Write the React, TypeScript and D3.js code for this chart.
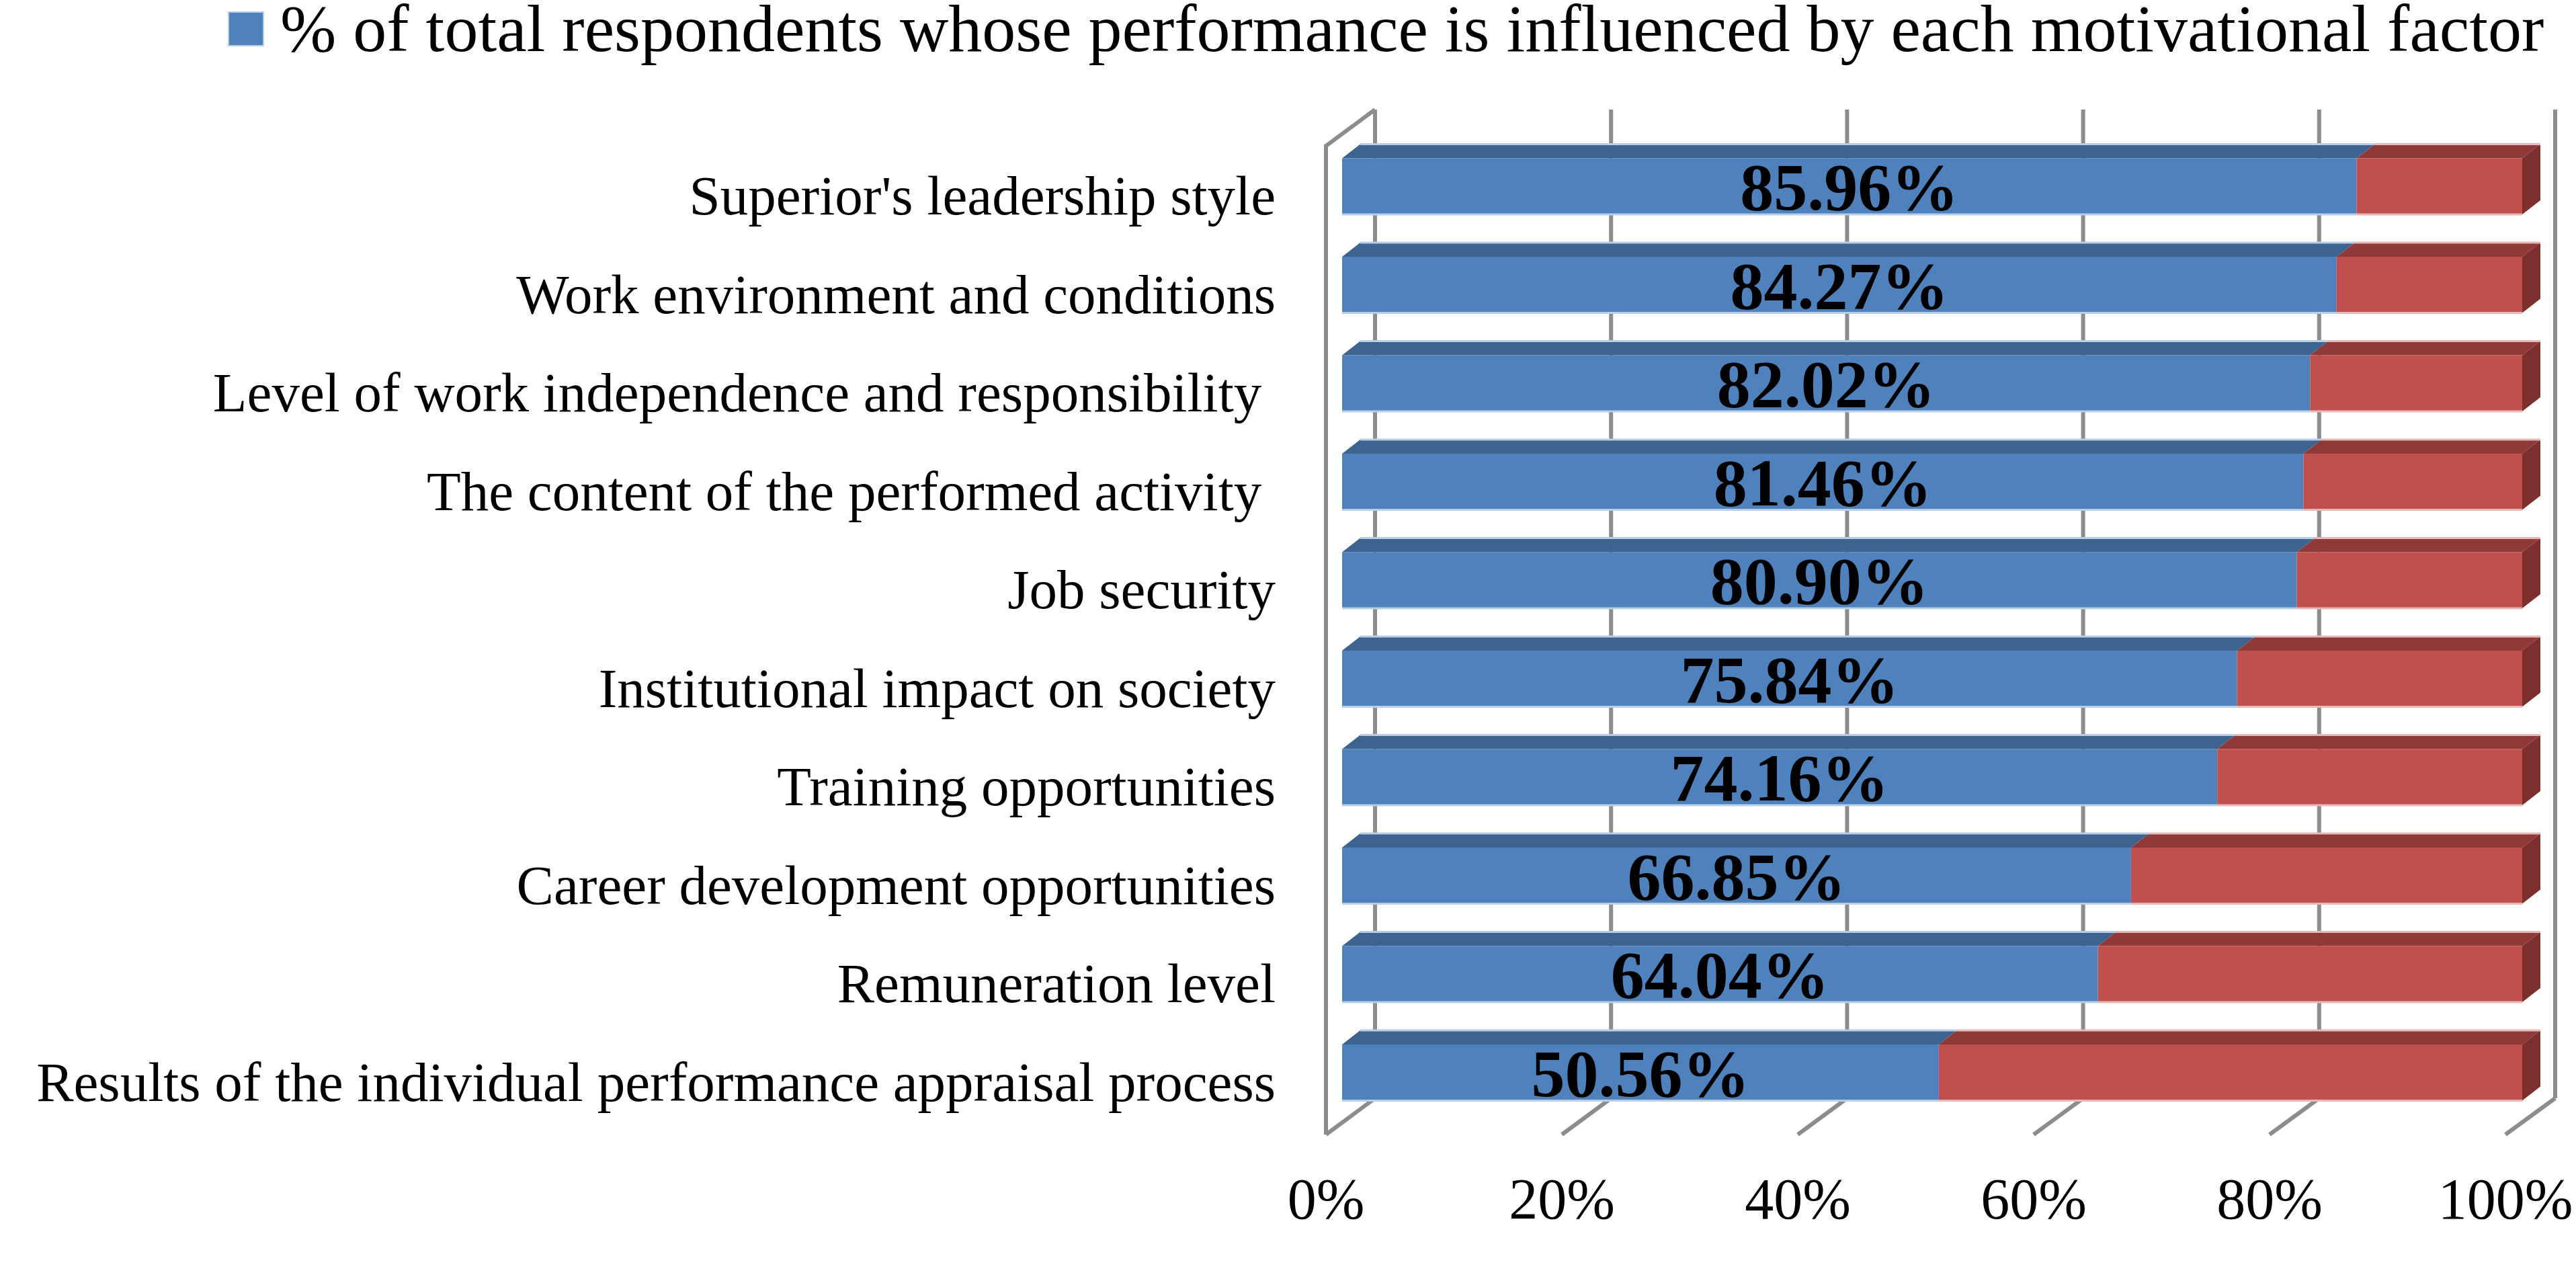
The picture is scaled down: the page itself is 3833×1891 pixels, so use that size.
import * as d3 from "d3";

const categories = [
  "Superior's leadership style",
  "Work environment and conditions",
  "Level of work independence and responsibility ",
  "The content of the performed activity ",
  "Job security",
  "Institutional impact on society",
  "Training opportunities",
  "Career development opportunities",
  "Remuneration level",
  "Results of the individual performance appraisal process",
];
const influenced = [85.96, 84.27, 82.02, 81.46, 80.9, 75.84, 74.16, 66.85, 64.04, 50.56];
const notInfluenced = [14.04, 15.73, 17.98, 18.54, 19.1, 24.16, 25.84, 33.15, 35.96, 49.44];
const xTicks = [0, 20, 40, 60, 80, 100];
const legendLabel =
  "% of total respondents whose performance is influenced by each motivational factor";

const width = 3833;
const height = 1891;
const font = "'Liberation Serif', 'Times New Roman', serif";

const blue = { front: "#4f81bd", top: "#3d6391", edge: "#b9cde5" };
const red = { front: "#c0504d", top: "#8f3a38", side: "#7c2f2d", edge: "#e6b9b8" };
const gridColor = "#8c8c8c";

// depth offsets
const barDx = 27;
const barDy = 21;
const gridTop = 163;
const floorBack = 1634;
const floorFront = 1688;

const App = () => {
  const x = d3.scaleLinear().domain([0, 100]).range([1997, 3753]);
  const xBack = d3.scaleLinear().domain([0, 100]).range([2046, 3802]);
  const xFloor = d3.scaleLinear().domain([0, 100]).range([1973, 3728]);
  const y = d3
    .scaleBand()
    .domain(categories)
    .range([204, 1669])
    .paddingInner(0.43)
    .paddingOuter(0.215);
  const bw = y.bandwidth();

  const topFace = (x0, x1, yt) =>
    `${x0},${yt} ${x1},${yt} ${x1 + barDx},${yt - barDy} ${x0 + barDx},${yt - barDy}`;
  const sideFace = (x1, yt) =>
    `${x1},${yt} ${x1 + barDx},${yt - barDy} ${x1 + barDx},${yt + bw - barDy} ${x1},${yt + bw}`;

  return (
    <svg
      width={width}
      height={height}
      viewBox={`0 0 ${width} ${height}`}
      style={{ position: "absolute", left: 0, top: 0, background: "#fff" }}
    >
      {/* legend */}
      <g>
        <rect x={340} y={18} width={52} height={50} fill={blue.front} stroke={blue.edge} strokeWidth={2} />
        <text x={417} y={76} fontFamily={font} fontSize={100} fill="#000">
          {legendLabel}
        </text>
      </g>

      {/* back wall gridlines */}
      <g stroke={gridColor} strokeWidth={6} fill="none">
        {xTicks.map((t) => (
          <line key={`g-${t}`} x1={xBack(t)} x2={xBack(t)} y1={gridTop} y2={floorBack} />
        ))}
        {/* floor diagonals */}
        {xTicks.map((t) => (
          <line key={`f-${t}`} x1={xBack(t)} y1={floorBack} x2={xFloor(t)} y2={floorFront} />
        ))}
        {/* left wall */}
        <polyline
          points={`${xBack(0)},${gridTop} ${xFloor(0)},${gridTop + (floorFront - floorBack)} ${xFloor(0)},${floorFront}`}
          strokeLinejoin="miter"
        />
      </g>

      {/* bars */}
      {categories.map((c, i) => {
        const yt = y(c);
        const x0 = x(0);
        const xm = x(influenced[i]);
        const x1 = x(influenced[i] + notInfluenced[i]);
        return (
          <g key={`bar-${i}`}>
            <polygon points={topFace(x0, xm, yt)} fill={blue.top} />
            <polygon points={topFace(xm, x1, yt)} fill={red.top} />
            <polygon points={sideFace(x1, yt)} fill={red.side} />
            <line x1={x0 + barDx} x2={xm + barDx} y1={yt - barDy} y2={yt - barDy} stroke={blue.edge} strokeWidth={3} />
            <line x1={xm + barDx} x2={x1 + barDx} y1={yt - barDy} y2={yt - barDy} stroke={red.edge} strokeWidth={3} />
            <rect x={x0} y={yt} width={xm - x0} height={bw} fill={blue.front} />
            <rect x={xm} y={yt} width={x1 - xm} height={bw} fill={red.front} />
            <line x1={x0} x2={xm} y1={yt + bw} y2={yt + bw} stroke={blue.edge} strokeWidth={3} />
            <line x1={xm} x2={x1} y1={yt + bw} y2={yt + bw} stroke={red.edge} strokeWidth={3} />
          </g>
        );
      })}

      {/* value labels */}
      {categories.map((c, i) => (
        <text
          key={`v-${i}`}
          x={(x(0) + x(influenced[i])) / 2}
          y={y(c) + bw / 2 + 35}
          textAnchor="middle"
          fontFamily={font}
          fontWeight="bold"
          fontSize={100}
          fill="#000"
        >
          {influenced[i].toFixed(2)}%
        </text>
      ))}

      {/* category labels */}
      {categories.map((c) => (
        <text
          key={`c-${c}`}
          x={1898}
          y={y(c) + bw / 2 + 42}
          textAnchor="end"
          fontFamily={font}
          fontSize={83}
          fill="#000"
          style={{ whiteSpace: "pre" }}
        >
          {c}
        </text>
      ))}

      {/* x tick labels */}
      {xTicks.map((t) => (
        <text
          key={`t-${t}`}
          x={xFloor(t)}
          y={1813}
          textAnchor="middle"
          fontFamily={font}
          fontSize={86}
          fill="#000"
        >
          {t}%
        </text>
      ))}
    </svg>
  );
};

export default App;
